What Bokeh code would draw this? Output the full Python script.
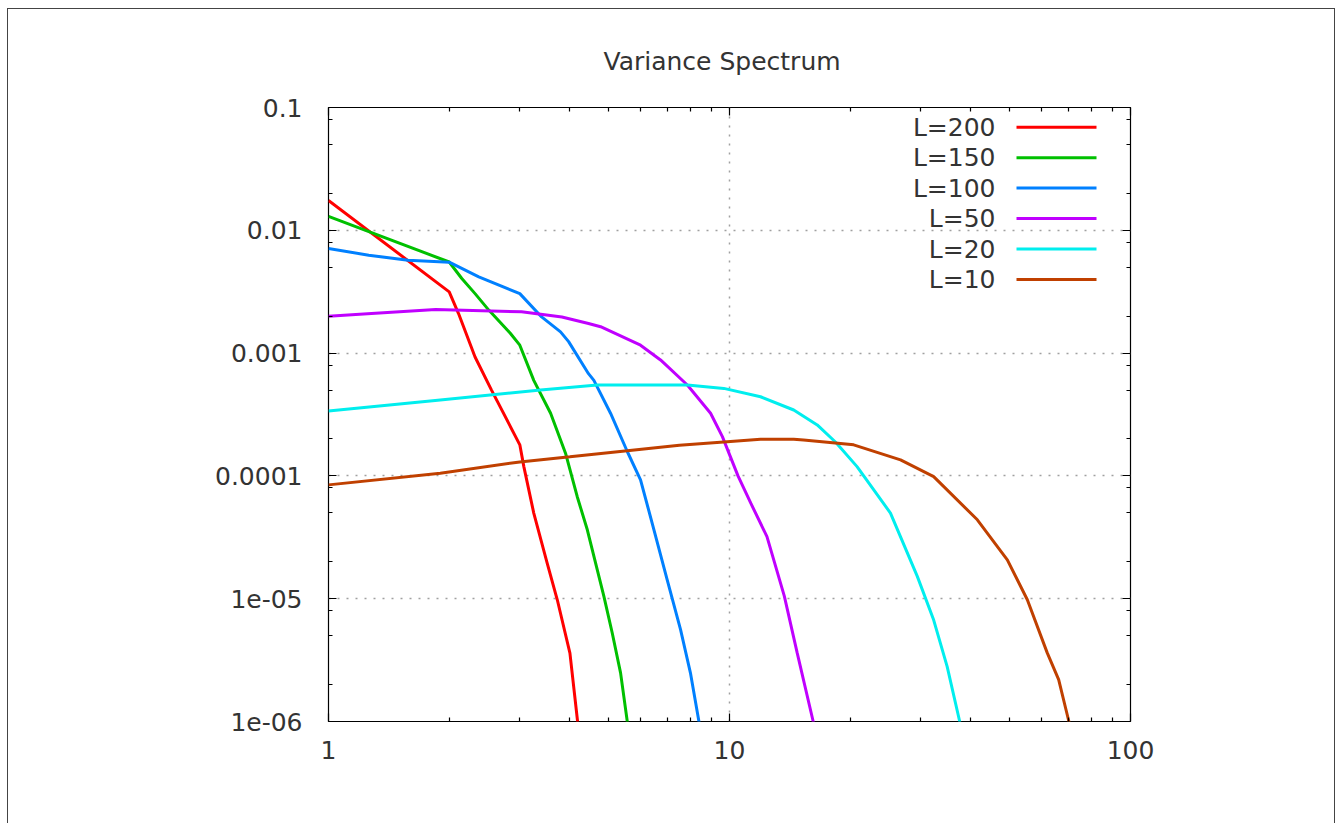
import numpy as np
from bokeh.plotting import figure
from bokeh.models import LogAxis, FixedTicker
from bokeh.core.properties import value
from bokeh.embed import file_html
from bokeh.resources import INLINE

# ---- data ----
x_l200 = [1.0, 2.0, 2.11, 2.32, 2.55, 3.0, 3.07, 3.25, 3.51, 3.72, 4.0, 4.18, 4.35]
y_l200 = [0.0175, 0.00315, 0.0021, 9.3e-4, 5.0e-4, 1.79e-4, 1.19e-4, 4.98e-5, 1.95e-5, 9.8e-6, 3.6e-6, 1.0e-6, 3.7e-7]

x_l150 = [1.0, 2.0, 2.15, 2.32, 2.51, 2.84, 3.0, 3.25, 3.58, 3.9, 4.17, 4.42, 4.86, 5.1, 5.35, 5.56, 5.8]
y_l150 = [0.013, 0.00552, 0.00405, 0.00305, 0.00224, 0.00145, 0.00116, 6.0e-4, 3.24e-4, 1.53e-4,
          6.8e-5, 3.64e-5, 1.05e-5, 5.26e-6, 2.49e-6, 1.0e-6, 3.7e-7]

x_l100 = [1.0, 1.26, 1.58, 2.0, 2.37, 3.0, 3.4, 3.79, 3.97, 4.45, 4.59, 5.05, 5.56, 6.0, 6.48, 6.99, 7.55, 7.99, 8.39, 8.8]
y_l100 = [0.0071, 0.00627, 0.0057, 0.0055, 0.00417, 0.00305, 0.00197, 0.00149, 0.00124, 6.8e-4, 6.0e-4,
          3.24e-4, 1.58e-4, 9.3e-5, 3.64e-5, 1.43e-5, 5.6e-6, 2.49e-6, 1.0e-6, 4.1e-7]

x_l50 = [1.0, 1.28, 1.85, 3.03, 3.82, 4.45, 4.77, 6.0, 6.73, 7.85, 8.97, 9.6, 10.5, 11.3, 12.4, 13.7, 14.75, 16.17, 17.5]
y_l50 = [0.0020, 0.0021, 0.00226, 0.00217, 0.00197, 0.00174, 0.00164, 0.00116, 8.8e-4, 5.5e-4, 3.24e-4,
         2.09e-4, 1.0e-4, 6.0e-5, 3.2e-5, 1.05e-5, 3.62e-6, 1.0e-6, 3.3e-7]

x_l20 = [1.0, 1.9, 3.38, 4.68, 7.85, 9.68, 11.95, 14.46, 16.55, 18.4, 20.8, 25.2, 29.4, 32.3, 34.9, 37.5, 40.0]
y_l20 = [3.37e-4, 4.15e-4, 5.0e-4, 5.5e-4, 5.5e-4, 5.16e-4, 4.41e-4, 3.44e-4, 2.6e-4, 1.88e-4, 1.19e-4,
         4.98e-5, 1.52e-5, 6.7e-6, 2.8e-6, 1.0e-6, 4.0e-7]

x_l10 = [1.0, 1.9, 3.0, 4.0, 5.56, 7.5, 9.87, 11.95, 14.46, 15.3, 20.4, 26.7, 32.3, 41.5, 49.3, 55.3, 62.0, 66.2, 70.2, 75.0]
y_l10 = [8.45e-5, 1.05e-4, 1.3e-4, 1.43e-4, 1.6e-4, 1.78e-4, 1.9e-4, 1.99e-4, 1.99e-4, 1.96e-4, 1.79e-4,
         1.35e-4, 9.87e-5, 4.39e-5, 2.07e-5, 9.8e-6, 3.62e-6, 2.19e-6, 1.0e-6, 4.2e-7]

series_labels = ["L=200", "L=150", "L=100", "L=50", "L=20", "L=10"]
series_colors = ["#ff0000", "#00c000", "#0080ff", "#c000ff", "#00eeee", "#c04000"]
series_x = [x_l200, x_l150, x_l100, x_l50, x_l20, x_l10]
series_y = [y_l200, y_l150, y_l100, y_l50, y_l20, y_l10]

x_ticks = [1, 10, 100]
x_tick_labels = ["1", "10", "100"]
x_minor = [m * 10 ** e for e in (0, 1) for m in range(2, 10)]
y_ticks = [1e-6, 1e-5, 1e-4, 1e-3, 1e-2, 1e-1]
y_tick_labels = ["1e-06", "1e-05", "0.0001", "0.001", "0.01", "0.1"]
y_minor = [m * 10.0 ** e for e in range(-6, -1) for m in (2, 5, 8)]

FONT = "DejaVu Sans"
TXT = "#333333"
FS = "25px"

p = figure(width=1328, height=815, x_axis_type="log", y_axis_type="log",
           x_range=(1, 100), y_range=(1e-6, 0.1),
           output_backend="svg", toolbar_location=None,
           min_border_left=320, min_border_right=206, min_border_top=98, min_border_bottom=103,
           title="Variance Spectrum")
p.margin = (8, 0, 0, 7)
p.styles = {"border-left": "1px solid #444444", "border-top": "1px solid #444444",
            "border-right": "1px solid #444444"}
p.background_fill_color = "white"
p.border_fill_color = "white"
p.outline_line_color = "black"
p.outline_line_width = 1.2

p.title.align = "left"
p.title.offset = 275
p.title.text_font = FONT
p.title.text_font_size = FS
p.title.text_font_style = "normal"
p.title.text_color = TXT
p.title.standoff = 63

xt = FixedTicker(ticks=x_ticks, minor_ticks=x_minor)
yt = FixedTicker(ticks=y_ticks, minor_ticks=y_minor)

p.add_layout(LogAxis(), "right")
p.add_layout(LogAxis(), "above")

for ax in p.xaxis:
    ax.ticker = xt
for ax in p.yaxis:
    ax.ticker = yt

for ax in p.axis:
    ax.axis_line_color = None
    ax.major_tick_in = 8
    ax.major_tick_out = 0
    ax.minor_tick_in = 4
    ax.minor_tick_out = 0
    ax.major_tick_line_color = "black"
    ax.minor_tick_line_color = "black"
    ax.major_tick_line_width = 1.2
    ax.minor_tick_line_width = 1.2
    ax.major_label_text_font = FONT
    ax.major_label_text_font_size = FS
    ax.major_label_text_color = TXT

p.below[0].major_label_overrides = dict(zip(x_ticks, x_tick_labels))
p.below[0].major_label_standoff = 19
p.left[0].major_label_overrides = dict(zip(y_ticks, y_tick_labels))
p.left[0].major_label_standoff = 26
p.right[0].major_label_text_color = None
p.above[0].major_label_text_color = None
p.right[0].major_label_standoff = 0
p.above[0].major_label_standoff = 0

p.xgrid.ticker = xt
p.ygrid.ticker = yt
for g in (p.xgrid[0], p.ygrid[0]):
    g.grid_line_color = "#a0a0a0"
    g.grid_line_width = 1.5
    g.grid_line_dash = "2 7"

for xs, ys, c in zip(series_x, series_y, series_colors):
    p.line(xs, ys, line_color=c, line_width=3)

# ---- legend (gnuplot style: label, then line sample), placed relative to the frame ----
fx0, fx1, fy0, fy1 = 328.0, 1130.0, 107.0, 721.0
def px_x(px):
    return 10 ** (2.0 * (px - fx0) / (fx1 - fx0))
def px_y(py):
    return 10 ** (-1.0 - 5.0 * (py - fy0) / (fy1 - fy0))

rows = [px_y(126.7 + 30.45 * i) for i in range(len(series_labels))]
p.text(x=[px_x(995)] * len(rows), y=rows, text=series_labels,
       text_align="right", text_baseline="middle",
       text_font=value(FONT), text_font_size=FS, text_color=TXT)
p.segment(x0=[px_x(1016)] * len(rows), y0=rows, x1=[px_x(1096)] * len(rows), y1=rows,
          line_color=series_colors, line_width=3)

open("out.html", "w").write(file_html(p, INLINE))
